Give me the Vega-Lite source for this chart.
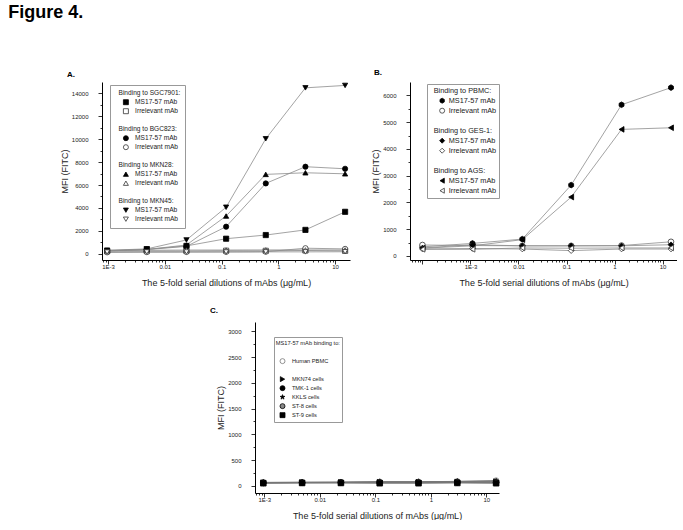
{
  "$schema": "https://vega.github.io/schema/vega-lite/v6.json",
  "padding": {"left": 8, "top": 4, "right": 0, "bottom": 0},
  "title": {"text": "Figure 4.", "anchor": "start", "fontSize": 18, "fontWeight": "bold", "font": "Liberation Sans", "color": "black", "dx": -52, "offset": 47},
  "datasets": {
    "a": [
      {"k": "SGC7901|MS17-57 mAb", "x": 0.00096, "y": 250}, {"k": "SGC7901|MS17-57 mAb", "x": 0.0048, "y": 380}, {"k": "SGC7901|MS17-57 mAb", "x": 0.024, "y": 680}, {"k": "SGC7901|MS17-57 mAb", "x": 0.12, "y": 1310}, {"k": "SGC7901|MS17-57 mAb", "x": 0.6, "y": 1630}, {"k": "SGC7901|MS17-57 mAb", "x": 3, "y": 2080}, {"k": "SGC7901|MS17-57 mAb", "x": 15, "y": 3660},
      {"k": "SGC7901|Irrelevant mAb", "x": 0.00096, "y": 220}, {"k": "SGC7901|Irrelevant mAb", "x": 0.0048, "y": 230}, {"k": "SGC7901|Irrelevant mAb", "x": 0.024, "y": 240}, {"k": "SGC7901|Irrelevant mAb", "x": 0.12, "y": 260}, {"k": "SGC7901|Irrelevant mAb", "x": 0.6, "y": 250}, {"k": "SGC7901|Irrelevant mAb", "x": 3, "y": 280}, {"k": "SGC7901|Irrelevant mAb", "x": 15, "y": 250},
      {"k": "BGC823|MS17-57 mAb", "x": 0.00096, "y": 240}, {"k": "BGC823|MS17-57 mAb", "x": 0.0048, "y": 360}, {"k": "BGC823|MS17-57 mAb", "x": 0.024, "y": 640}, {"k": "BGC823|MS17-57 mAb", "x": 0.12, "y": 2360}, {"k": "BGC823|MS17-57 mAb", "x": 0.6, "y": 6140}, {"k": "BGC823|MS17-57 mAb", "x": 3, "y": 7600}, {"k": "BGC823|MS17-57 mAb", "x": 15, "y": 7420},
      {"k": "BGC823|Irrelevant mAb", "x": 0.00096, "y": 120}, {"k": "BGC823|Irrelevant mAb", "x": 0.0048, "y": 140}, {"k": "BGC823|Irrelevant mAb", "x": 0.024, "y": 150}, {"k": "BGC823|Irrelevant mAb", "x": 0.12, "y": 160}, {"k": "BGC823|Irrelevant mAb", "x": 0.6, "y": 170}, {"k": "BGC823|Irrelevant mAb", "x": 3, "y": 480}, {"k": "BGC823|Irrelevant mAb", "x": 15, "y": 420},
      {"k": "MKN28|MS17-57 mAb", "x": 0.00096, "y": 260}, {"k": "MKN28|MS17-57 mAb", "x": 0.0048, "y": 370}, {"k": "MKN28|MS17-57 mAb", "x": 0.024, "y": 760}, {"k": "MKN28|MS17-57 mAb", "x": 0.12, "y": 3290}, {"k": "MKN28|MS17-57 mAb", "x": 0.6, "y": 6930}, {"k": "MKN28|MS17-57 mAb", "x": 3, "y": 7070}, {"k": "MKN28|MS17-57 mAb", "x": 15, "y": 6980},
      {"k": "MKN28|Irrelevant mAb", "x": 0.00096, "y": 300}, {"k": "MKN28|Irrelevant mAb", "x": 0.0048, "y": 300}, {"k": "MKN28|Irrelevant mAb", "x": 0.024, "y": 320}, {"k": "MKN28|Irrelevant mAb", "x": 0.12, "y": 320}, {"k": "MKN28|Irrelevant mAb", "x": 0.6, "y": 330}, {"k": "MKN28|Irrelevant mAb", "x": 3, "y": 330}, {"k": "MKN28|Irrelevant mAb", "x": 15, "y": 330},
      {"k": "MKN45|MS17-57 mAb", "x": 0.00096, "y": 300}, {"k": "MKN45|MS17-57 mAb", "x": 0.0048, "y": 420}, {"k": "MKN45|MS17-57 mAb", "x": 0.024, "y": 1200}, {"k": "MKN45|MS17-57 mAb", "x": 0.12, "y": 4060}, {"k": "MKN45|MS17-57 mAb", "x": 0.6, "y": 10040}, {"k": "MKN45|MS17-57 mAb", "x": 3, "y": 14490}, {"k": "MKN45|MS17-57 mAb", "x": 15, "y": 14700},
      {"k": "MKN45|Irrelevant mAb", "x": 0.00096, "y": 140}, {"k": "MKN45|Irrelevant mAb", "x": 0.0048, "y": 150}, {"k": "MKN45|Irrelevant mAb", "x": 0.024, "y": 150}, {"k": "MKN45|Irrelevant mAb", "x": 0.12, "y": 150}, {"k": "MKN45|Irrelevant mAb", "x": 0.6, "y": 160}, {"k": "MKN45|Irrelevant mAb", "x": 3, "y": 160}, {"k": "MKN45|Irrelevant mAb", "x": 15, "y": 170}
    ],
    "b": [
      {"k": "PBMC|MS17-57 mAb", "x": 0.0001, "y": 340}, {"k": "PBMC|MS17-57 mAb", "x": 0.0011, "y": 470}, {"k": "PBMC|MS17-57 mAb", "x": 0.012, "y": 630}, {"k": "PBMC|MS17-57 mAb", "x": 0.125, "y": 2650}, {"k": "PBMC|MS17-57 mAb", "x": 1.4, "y": 5650}, {"k": "PBMC|MS17-57 mAb", "x": 15, "y": 6290},
      {"k": "PBMC|Irrelevant mAb", "x": 0.0001, "y": 410}, {"k": "PBMC|Irrelevant mAb", "x": 0.0011, "y": 390}, {"k": "PBMC|Irrelevant mAb", "x": 0.012, "y": 380}, {"k": "PBMC|Irrelevant mAb", "x": 0.125, "y": 380}, {"k": "PBMC|Irrelevant mAb", "x": 1.4, "y": 390}, {"k": "PBMC|Irrelevant mAb", "x": 15, "y": 530},
      {"k": "GES1|MS17-57 mAb", "x": 0.0001, "y": 300}, {"k": "GES1|MS17-57 mAb", "x": 0.0011, "y": 420}, {"k": "GES1|MS17-57 mAb", "x": 0.012, "y": 380}, {"k": "GES1|MS17-57 mAb", "x": 0.125, "y": 380}, {"k": "GES1|MS17-57 mAb", "x": 1.4, "y": 380}, {"k": "GES1|MS17-57 mAb", "x": 15, "y": 420},
      {"k": "GES1|Irrelevant mAb", "x": 0.0001, "y": 260}, {"k": "GES1|Irrelevant mAb", "x": 0.0011, "y": 280}, {"k": "GES1|Irrelevant mAb", "x": 0.012, "y": 260}, {"k": "GES1|Irrelevant mAb", "x": 0.125, "y": 200}, {"k": "GES1|Irrelevant mAb", "x": 1.4, "y": 260}, {"k": "GES1|Irrelevant mAb", "x": 15, "y": 260},
      {"k": "AGS|MS17-57 mAb", "x": 0.0001, "y": 290}, {"k": "AGS|MS17-57 mAb", "x": 0.0011, "y": 380}, {"k": "AGS|MS17-57 mAb", "x": 0.012, "y": 610}, {"k": "AGS|MS17-57 mAb", "x": 0.125, "y": 2200}, {"k": "AGS|MS17-57 mAb", "x": 1.4, "y": 4730}, {"k": "AGS|MS17-57 mAb", "x": 15, "y": 4790},
      {"k": "AGS|Irrelevant mAb", "x": 0.0001, "y": 250}, {"k": "AGS|Irrelevant mAb", "x": 0.0011, "y": 250}, {"k": "AGS|Irrelevant mAb", "x": 0.012, "y": 300}, {"k": "AGS|Irrelevant mAb", "x": 0.125, "y": 290}, {"k": "AGS|Irrelevant mAb", "x": 1.4, "y": 300}, {"k": "AGS|Irrelevant mAb", "x": 15, "y": 300}
    ],
    "c": [
      {"k": "PBMC|Human PBMC", "x": 0.00096, "y": 65}, {"k": "PBMC|Human PBMC", "x": 0.0048, "y": 65}, {"k": "PBMC|Human PBMC", "x": 0.024, "y": 70}, {"k": "PBMC|Human PBMC", "x": 0.12, "y": 75}, {"k": "PBMC|Human PBMC", "x": 0.6, "y": 75}, {"k": "PBMC|Human PBMC", "x": 3, "y": 85}, {"k": "PBMC|Human PBMC", "x": 15, "y": 100},
      {"k": "MKN74|MKN74 cells", "x": 0.00096, "y": 60}, {"k": "MKN74|MKN74 cells", "x": 0.0048, "y": 65}, {"k": "MKN74|MKN74 cells", "x": 0.024, "y": 65}, {"k": "MKN74|MKN74 cells", "x": 0.12, "y": 70}, {"k": "MKN74|MKN74 cells", "x": 0.6, "y": 70}, {"k": "MKN74|MKN74 cells", "x": 3, "y": 75}, {"k": "MKN74|MKN74 cells", "x": 15, "y": 80},
      {"k": "TMK1|TMK-1 cells", "x": 0.00096, "y": 55}, {"k": "TMK1|TMK-1 cells", "x": 0.0048, "y": 60}, {"k": "TMK1|TMK-1 cells", "x": 0.024, "y": 60}, {"k": "TMK1|TMK-1 cells", "x": 0.12, "y": 60}, {"k": "TMK1|TMK-1 cells", "x": 0.6, "y": 60}, {"k": "TMK1|TMK-1 cells", "x": 3, "y": 65}, {"k": "TMK1|TMK-1 cells", "x": 15, "y": 60},
      {"k": "KKLS|KKLS cells", "x": 0.00096, "y": 65}, {"k": "KKLS|KKLS cells", "x": 0.0048, "y": 70}, {"k": "KKLS|KKLS cells", "x": 0.024, "y": 70}, {"k": "KKLS|KKLS cells", "x": 0.12, "y": 80}, {"k": "KKLS|KKLS cells", "x": 0.6, "y": 80}, {"k": "KKLS|KKLS cells", "x": 3, "y": 85}, {"k": "KKLS|KKLS cells", "x": 15, "y": 90},
      {"k": "ST8|ST-8 cells", "x": 0.00096, "y": 60}, {"k": "ST8|ST-8 cells", "x": 0.0048, "y": 60}, {"k": "ST8|ST-8 cells", "x": 0.024, "y": 65}, {"k": "ST8|ST-8 cells", "x": 0.12, "y": 65}, {"k": "ST8|ST-8 cells", "x": 0.6, "y": 65}, {"k": "ST8|ST-8 cells", "x": 3, "y": 70}, {"k": "ST8|ST-8 cells", "x": 15, "y": 70},
      {"k": "ST9|ST-9 cells", "x": 0.00096, "y": 50}, {"k": "ST9|ST-9 cells", "x": 0.0048, "y": 55}, {"k": "ST9|ST-9 cells", "x": 0.024, "y": 55}, {"k": "ST9|ST-9 cells", "x": 0.12, "y": 50}, {"k": "ST9|ST-9 cells", "x": 0.6, "y": 50}, {"k": "ST9|ST-9 cells", "x": 3, "y": 55}, {"k": "ST9|ST-9 cells", "x": 15, "y": 50}
    ]
  },
  "spacing": 20,
  "resolve": {"scale": {"shape": "independent", "fill": "independent", "stroke": "independent"}},
  "vconcat": [
    {
      "spacing": 21,
      "resolve": {"scale": {"shape": "independent", "fill": "independent", "stroke": "independent"}},
      "hconcat": [
        {
          "width": 248, "height": 178,
          "title": {"text": "A.", "anchor": "start", "frame": "group", "dx": -35, "fontSize": 8, "fontWeight": "bold", "offset": 3},
          "data": {"name": "a"},
          "encoding": {
            "x": {"field": "x", "type": "quantitative",
              "scale": {"type": "log", "domain": [0.00078, 18.3], "nice": false},
              "axis": {"title": "The 5-fold serial dilutions of mAbs (μg/mL)",
                "values": [0.0008,0.0009,0.001,0.002,0.003,0.004,0.005,0.006,0.007,0.008,0.009,0.01,0.02,0.03,0.04,0.05,0.06,0.07,0.08,0.09,0.1,0.2,0.3,0.4,0.5,0.6,0.7,0.8,0.9,1,2,3,4,5,6,7,8,9,10],
                "labelExpr": "abs(log(datum.value)/LN10 - round(log(datum.value)/LN10)) < 0.01 ? (datum.value < 0.0015 ? '1E-3' : format(datum.value, '')) : ''",
                "tickSize": {"condition": {"test": "abs(log(datum.value)/LN10 - round(log(datum.value)/LN10)) < 0.01", "value": 4}, "value": 2},
                "labelPadding": -1, "titlePadding": 9}},
            "y": {"field": "y", "type": "quantitative",
              "scale": {"domain": [-550, 15000], "nice": false, "zero": false},
              "axis": {"title": "MFI (FITC)",
                "values": [0,1000,2000,3000,4000,5000,6000,7000,8000,9000,10000,11000,12000,13000,14000],
                "labelExpr": "datum.value % 2000 == 0 ? format(datum.value, 'd') : ''",
                "tickSize": {"condition": {"test": "datum.value % 2000 == 0", "value": 4}, "value": 2},
                "labelPadding": 10, "titlePadding": 2}}
          },
          "layer": [
            {"mark": {"type": "line", "stroke": "#8c8c8c", "strokeWidth": 0.8}, "encoding": {"detail": {"field": "k"}}},
            {"mark": {"type": "point", "filled": true, "size": 27, "strokeWidth": 0.8, "opacity": 1},
             "encoding": {
               "shape": {"field": "k", "type": "nominal",
                 "scale": {"domain": ["h|Binding to SGC7901:", "SGC7901|MS17-57 mAb", "SGC7901|Irrelevant mAb", "b1|\u00a0", "h|Binding to BGC823:", "BGC823|MS17-57 mAb", "BGC823|Irrelevant mAb", "b2|\u00a0", "h|Binding to MKN28:", "MKN28|MS17-57 mAb", "MKN28|Irrelevant mAb", "b3|\u00a0", "h|Binding to MKN45:", "MKN45|MS17-57 mAb", "MKN45|Irrelevant mAb"],
                   "range": ["square", "square", "square", "square", "square", "circle", "circle", "square", "square", "triangle-up", "triangle-up", "square", "square", "triangle-down", "triangle-down"]},
                 "legend": {"title": null, "orient": "none", "legendX": 8, "legendY": 3, "padding": 4, "labelFontSize": 6.6, "rowPadding": 0, "clipHeight": 8.4, "symbolOffset": 8.6, "labelOffset": {"expr": "indexof(datum.value, 'h|') == 0 ? -10.7 : 5.9"}, "labelExpr": "split(datum.value, '|')[1]"}},
               "fill": {"field": "k", "type": "nominal",
                 "scale": {"domain": ["h|Binding to SGC7901:", "SGC7901|MS17-57 mAb", "SGC7901|Irrelevant mAb", "b1|\u00a0", "h|Binding to BGC823:", "BGC823|MS17-57 mAb", "BGC823|Irrelevant mAb", "b2|\u00a0", "h|Binding to MKN28:", "MKN28|MS17-57 mAb", "MKN28|Irrelevant mAb", "b3|\u00a0", "h|Binding to MKN45:", "MKN45|MS17-57 mAb", "MKN45|Irrelevant mAb"],
                   "range": ["transparent", "black", "white", "transparent", "transparent", "black", "white", "transparent", "transparent", "black", "white", "transparent", "transparent", "black", "white"]},
                 "legend": {"title": null, "orient": "none", "legendX": 8, "legendY": 3, "padding": 4, "labelFontSize": 6.6, "rowPadding": 0, "clipHeight": 8.4, "symbolOffset": 8.6, "labelOffset": {"expr": "indexof(datum.value, 'h|') == 0 ? -10.7 : 5.9"}, "labelExpr": "split(datum.value, '|')[1]"}},
               "stroke": {"field": "k", "type": "nominal",
                 "scale": {"domain": ["h|Binding to SGC7901:", "SGC7901|MS17-57 mAb", "SGC7901|Irrelevant mAb", "b1|\u00a0", "h|Binding to BGC823:", "BGC823|MS17-57 mAb", "BGC823|Irrelevant mAb", "b2|\u00a0", "h|Binding to MKN28:", "MKN28|MS17-57 mAb", "MKN28|Irrelevant mAb", "b3|\u00a0", "h|Binding to MKN45:", "MKN45|MS17-57 mAb", "MKN45|Irrelevant mAb"],
                   "range": ["transparent", "black", "#333", "transparent", "transparent", "black", "#333", "transparent", "transparent", "black", "#333", "transparent", "transparent", "black", "#333"]},
                 "legend": {"title": null, "orient": "none", "legendX": 8, "legendY": 3, "padding": 4, "labelFontSize": 6.6, "rowPadding": 0, "clipHeight": 8.4, "symbolOffset": 8.6, "labelOffset": {"expr": "indexof(datum.value, 'h|') == 0 ? -10.7 : 5.9"}, "labelExpr": "split(datum.value, '|')[1]"}}
             }}
          ]
        },
        {
          "width": 267, "height": 178,
          "title": {"text": "B.", "anchor": "start", "frame": "group", "dx": -36, "fontSize": 8, "fontWeight": "bold", "offset": 5},
          "data": {"name": "b"},
          "encoding": {
            "x": {"field": "x", "type": "quantitative",
              "scale": {"type": "log", "domain": [0.000055, 20], "nice": false},
              "axis": {"title": "The 5-fold serial dilutions of mAbs (μg/mL)",
                "values": [0.00006,0.00007,0.00008,0.00009,0.0001,0.0002,0.0003,0.0004,0.0005,0.0006,0.0007,0.0008,0.0009,0.001,0.002,0.003,0.004,0.005,0.006,0.007,0.008,0.009,0.01,0.02,0.03,0.04,0.05,0.06,0.07,0.08,0.09,0.1,0.2,0.3,0.4,0.5,0.6,0.7,0.8,0.9,1,2,3,4,5,6,7,8,9,10],
                "labelExpr": "abs(log(datum.value)/LN10 - round(log(datum.value)/LN10)) < 0.01 ? (datum.value < 0.0005 ? '' : datum.value < 0.0015 ? '1E-3' : format(datum.value, '')) : ''",
                "tickSize": {"condition": {"test": "abs(log(datum.value)/LN10 - round(log(datum.value)/LN10)) < 0.01", "value": 4}, "value": 2},
                "labelPadding": -1, "titlePadding": 9}},
            "y": {"field": "y", "type": "quantitative",
              "scale": {"domain": [-150, 6500], "nice": false, "zero": false},
              "axis": {"title": "MFI (FITC)",
                "values": [0,500,1000,1500,2000,2500,3000,3500,4000,4500,5000,5500,6000],
                "labelExpr": "datum.value % 1000 == 0 ? format(datum.value, 'd') : ''",
                "tickSize": {"condition": {"test": "datum.value % 1000 == 0", "value": 4}, "value": 2},
                "labelPadding": 10, "titlePadding": 2}}
          },
          "layer": [
            {"mark": {"type": "line", "stroke": "#8c8c8c", "strokeWidth": 0.8}, "encoding": {"detail": {"field": "k"}}},
            {"mark": {"type": "point", "filled": true, "size": 32, "strokeWidth": 0.8, "opacity": 1},
             "encoding": {
               "shape": {"field": "k", "type": "nominal",
                 "scale": {"domain": ["h|Binding to PBMC:", "PBMC|MS17-57 mAb", "PBMC|Irrelevant mAb", "b1|\u00a0", "h|Binding to GES-1:", "GES1|MS17-57 mAb", "GES1|Irrelevant mAb", "b2|\u00a0", "h|Binding to AGS:", "AGS|MS17-57 mAb", "AGS|Irrelevant mAb"],
                   "range": ["square", "M0,-1L0.866,-0.5L0.866,0.5L0,1L-0.866,0.5L-0.866,-0.5Z", "circle", "square", "square", "diamond", "diamond", "square", "square", "triangle-left", "triangle-left"]},
                 "legend": {"title": null, "orient": "none", "legendX": 17, "legendY": 2, "padding": 2, "labelFontSize": 7.3, "rowPadding": 0, "clipHeight": 9.4, "symbolOffset": 9.5, "labelOffset": {"expr": "indexof(datum.value, 'h|') == 0 ? -12.1 : 2.9"}, "labelExpr": "split(datum.value, '|')[1]"}},
               "fill": {"field": "k", "type": "nominal",
                 "scale": {"domain": ["h|Binding to PBMC:", "PBMC|MS17-57 mAb", "PBMC|Irrelevant mAb", "b1|\u00a0", "h|Binding to GES-1:", "GES1|MS17-57 mAb", "GES1|Irrelevant mAb", "b2|\u00a0", "h|Binding to AGS:", "AGS|MS17-57 mAb", "AGS|Irrelevant mAb"],
                   "range": ["transparent", "black", "white", "transparent", "transparent", "black", "white", "transparent", "transparent", "black", "white"]},
                 "legend": {"title": null, "orient": "none", "legendX": 17, "legendY": 2, "padding": 2, "labelFontSize": 7.3, "rowPadding": 0, "clipHeight": 9.4, "symbolOffset": 9.5, "labelOffset": {"expr": "indexof(datum.value, 'h|') == 0 ? -12.1 : 2.9"}, "labelExpr": "split(datum.value, '|')[1]"}},
               "stroke": {"field": "k", "type": "nominal",
                 "scale": {"domain": ["h|Binding to PBMC:", "PBMC|MS17-57 mAb", "PBMC|Irrelevant mAb", "b1|\u00a0", "h|Binding to GES-1:", "GES1|MS17-57 mAb", "GES1|Irrelevant mAb", "b2|\u00a0", "h|Binding to AGS:", "AGS|MS17-57 mAb", "AGS|Irrelevant mAb"],
                   "range": ["transparent", "black", "#333", "transparent", "transparent", "black", "#333", "transparent", "transparent", "black", "#333"]},
                 "legend": {"title": null, "orient": "none", "legendX": 17, "legendY": 2, "padding": 2, "labelFontSize": 7.3, "rowPadding": 0, "clipHeight": 9.4, "symbolOffset": 9.5, "labelOffset": {"expr": "indexof(datum.value, 'h|') == 0 ? -12.1 : 2.9"}, "labelExpr": "split(datum.value, '|')[1]"}}
             }}
          ]
        }
      ]
    },
    {
      "spacing": 0,
      "resolve": {"scale": {"shape": "independent", "fill": "independent", "stroke": "independent"}},
      "hconcat": [
        {"width": 108, "height": 171, "view": {"fill": "white", "stroke": null}, "data": {"values": []}, "mark": {"type": "point", "opacity": 0}, "encoding": {}},
        {
          "width": 244, "height": 171,
          "title": {"text": "C.", "anchor": "start", "frame": "group", "dx": -45, "fontSize": 8, "fontWeight": "bold", "offset": 7},
          "data": {"name": "c"},
          "encoding": {
            "x": {"field": "x", "type": "quantitative",
              "scale": {"type": "log", "domain": [0.00068, 16.9], "nice": false},
              "axis": {"title": "The 5-fold serial dilutions of mAbs (μg/mL)",
                "values": [0.0007,0.0008,0.0009,0.001,0.002,0.003,0.004,0.005,0.006,0.007,0.008,0.009,0.01,0.02,0.03,0.04,0.05,0.06,0.07,0.08,0.09,0.1,0.2,0.3,0.4,0.5,0.6,0.7,0.8,0.9,1,2,3,4,5,6,7,8,9,10],
                "labelExpr": "abs(log(datum.value)/LN10 - round(log(datum.value)/LN10)) < 0.01 ? (datum.value < 0.0015 ? '1E-3' : format(datum.value, '')) : ''",
                "tickSize": {"condition": {"test": "abs(log(datum.value)/LN10 - round(log(datum.value)/LN10)) < 0.01", "value": 4}, "value": 2},
                "labelPadding": -1, "titlePadding": 9}},
            "y": {"field": "y", "type": "quantitative",
              "scale": {"domain": [-140, 3180], "nice": false, "zero": false},
              "axis": {"title": "MFI (FITC)",
                "values": [0,250,500,750,1000,1250,1500,1750,2000,2250,2500,2750,3000],
                "labelExpr": "datum.value % 500 == 0 ? format(datum.value, 'd') : ''",
                "tickSize": {"condition": {"test": "datum.value % 500 == 0", "value": 4}, "value": 2},
                "labelPadding": 10, "titlePadding": 2}}
          },
          "layer": [
            {"mark": {"type": "line", "stroke": "#777", "strokeWidth": 1}, "encoding": {"detail": {"field": "k"}}},
            {"mark": {"type": "point", "filled": true, "size": 32, "strokeWidth": 0.8, "opacity": 1},
             "encoding": {
               "shape": {"field": "k", "type": "nominal",
                 "scale": {"domain": ["h|MS17-57 mAb binding to:", "b1|\u00a0", "PBMC|Human PBMC", "b2|\u00a0", "MKN74|MKN74 cells", "TMK1|TMK-1 cells", "KKLS|KKLS cells", "ST8|ST-8 cells", "ST9|ST-9 cells"],
                   "range": ["square", "square", "circle", "square", "triangle-right", "circle", "M0,-1L0.2245,-0.309L0.951,-0.309L0.363,0.118L0.588,0.809L0,0.382L-0.588,0.809L-0.363,0.118L-0.951,-0.309L-0.2245,-0.309Z", "circle", "square"]},
                 "legend": {"title": null, "orient": "none", "legendX": 19, "legendY": 15, "padding": 2, "labelFontSize": 5.7, "rowPadding": 0, "clipHeight": 8.25, "symbolOffset": 3.5, "labelOffset": {"expr": "indexof(datum.value, 'h|') == 0 ? -9.8 : 6.4"}, "labelExpr": "split(datum.value, '|')[1]"}},
               "fill": {"field": "k", "type": "nominal",
                 "scale": {"domain": ["h|MS17-57 mAb binding to:", "b1|\u00a0", "PBMC|Human PBMC", "b2|\u00a0", "MKN74|MKN74 cells", "TMK1|TMK-1 cells", "KKLS|KKLS cells", "ST8|ST-8 cells", "ST9|ST-9 cells"],
                   "range": ["transparent", "transparent", "white", "transparent", "black", "black", "black", "#888", "black"]},
                 "legend": {"title": null, "orient": "none", "legendX": 19, "legendY": 15, "padding": 2, "labelFontSize": 5.7, "rowPadding": 0, "clipHeight": 8.25, "symbolOffset": 3.5, "labelOffset": {"expr": "indexof(datum.value, 'h|') == 0 ? -9.8 : 6.4"}, "labelExpr": "split(datum.value, '|')[1]"}},
               "stroke": {"field": "k", "type": "nominal",
                 "scale": {"domain": ["h|MS17-57 mAb binding to:", "b1|\u00a0", "PBMC|Human PBMC", "b2|\u00a0", "MKN74|MKN74 cells", "TMK1|TMK-1 cells", "KKLS|KKLS cells", "ST8|ST-8 cells", "ST9|ST-9 cells"],
                   "range": ["transparent", "transparent", "#777", "transparent", "black", "black", "black", "black", "black"]},
                 "legend": {"title": null, "orient": "none", "legendX": 19, "legendY": 15, "padding": 2, "labelFontSize": 5.7, "rowPadding": 0, "clipHeight": 8.25, "symbolOffset": 3.5, "labelOffset": {"expr": "indexof(datum.value, 'h|') == 0 ? -9.8 : 6.4"}, "labelExpr": "split(datum.value, '|')[1]"}}
             }}
          ]
        }
      ]
    }
  ],
  "config": {
    "view": {"stroke": null},
    "font": "Liberation Sans",
    "title": {"font": "Liberation Sans", "color": "black"},
    "axis": {"grid": false, "domainColor": "black", "domainWidth": 1, "tickColor": "black", "tickWidth": 0.8, "labelColor": "#222", "titleColor": "#222", "labelFontSize": 6, "titleFontSize": 9, "titleFontWeight": "normal", "labelFont": "Liberation Sans", "titleFont": "Liberation Sans", "labelFlush": false, "labelOverlap": false},
    "legend": {"strokeColor": "#999", "fillColor": "white", "labelFont": "Liberation Sans", "labelColor": "#222", "symbolSize": 25, "symbolStrokeWidth": 0.8}
  }
}
